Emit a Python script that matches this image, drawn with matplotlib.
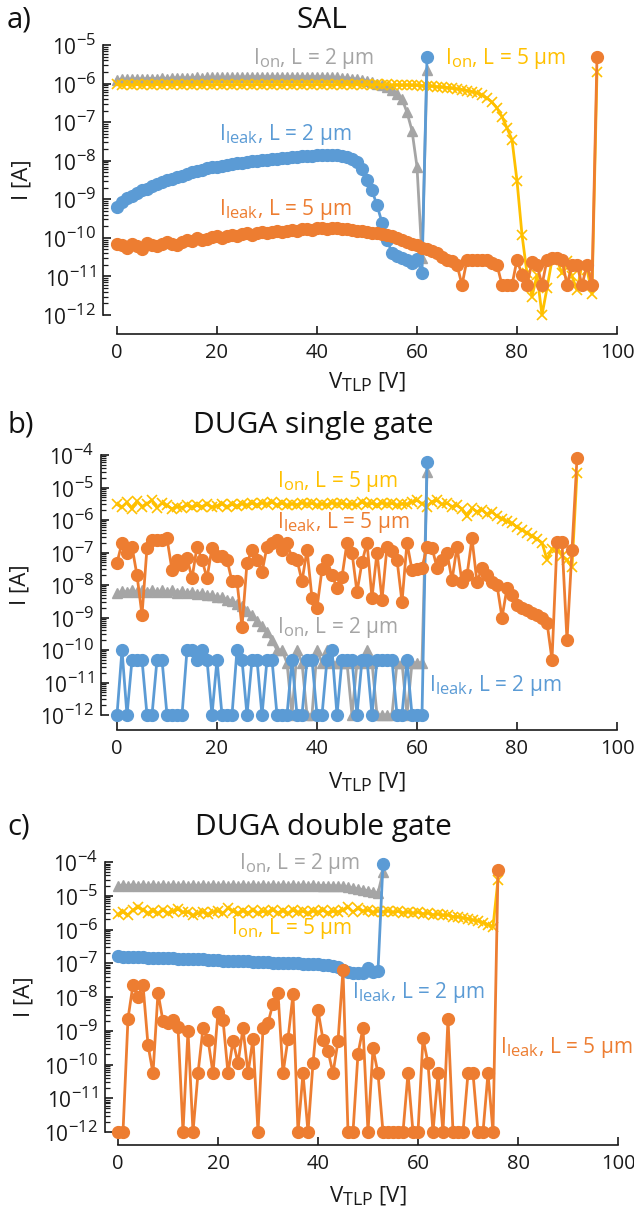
import numpy as np
import matplotlib
matplotlib.use("Agg")
import matplotlib.pyplot as plt
import matplotlib._mathtext as mathtext_internals
from matplotlib.ticker import LogLocator, FuncFormatter, NullFormatter, MultipleLocator

plt.rcParams["font.family"] = ["Open Sans", "DejaVu Sans"]
plt.rcParams["mathtext.fontset"] = "custom"
plt.rcParams["mathtext.rm"] = "Open Sans"
plt.rcParams["mathtext.it"] = "Open Sans:italic"
plt.rcParams["mathtext.bf"] = "Open Sans:bold"
plt.rcParams["mathtext.default"] = "regular"
# slightly larger sub/superscripts (exponents and the I_on / I_leak subscripts)
mathtext_internals.SHRINK_FACTOR = 0.8

BLUE = "#5B9BD5"
ORANGE = "#ED7D31"
GRAY = "#A5A5A5"
GOLD = "#FFC000"
INK = "#1a1a1a"

# ---------------- SAL: currents [A] at 1 V TLP steps ----------------
sal_ion_l2 = [
    1.25e-6, 1.3e-6, 1.3e-6, 1.3e-6, 1.35e-6, 1.3e-6, 1.35e-6, 1.35e-6, 1.35e-6, 1.4e-6,
    1.35e-6, 1.4e-6, 1.4e-6, 1.4e-6, 1.4e-6, 1.4e-6, 1.45e-6, 1.4e-6, 1.45e-6, 1.45e-6,
    1.45e-6, 1.45e-6, 1.45e-6, 1.45e-6, 1.5e-6, 1.45e-6, 1.5e-6, 1.5e-6, 1.5e-6, 1.5e-6,
    1.5e-6, 1.5e-6, 1.5e-6, 1.5e-6, 1.5e-6, 1.5e-6, 1.5e-6, 1.5e-6, 1.5e-6, 1.5e-6,
    1.5e-6, 1.5e-6, 1.5e-6, 1.45e-6, 1.45e-6, 1.4e-6, 1.4e-6, 1.35e-6, 1.3e-6, 1.25e-6,
    1.2e-6, 1.1e-6, 1.0e-6, 9e-7, 8e-7, 7e-7, 5.5e-7, 4e-7, 1.8e-7, 6e-8,
    7e-9, 3e-11, 2.2e-6]
sal_leak_l2 = [
    6.5e-10, 8.5e-10, 1.05e-9, 1.25e-9, 1.45e-9, 1.7e-9, 1.9e-9, 2.2e-9, 2.5e-9, 2.8e-9,
    3.1e-9, 3.4e-9, 3.8e-9, 4.1e-9, 4.5e-9, 5.0e-9, 5.5e-9, 5.9e-9, 6.3e-9, 6.7e-9,
    7.0e-9, 7.3e-9, 7.7e-9, 8.0e-9, 8.5e-9, 8.9e-9, 9.3e-9, 9.6e-9, 1.0e-8, 1.03e-8,
    1.07e-8, 1.1e-8, 1.13e-8, 1.16e-8, 1.2e-8, 1.23e-8, 1.26e-8, 1.3e-8, 1.33e-8, 1.36e-8,
    1.38e-8, 1.4e-8, 1.42e-8, 1.43e-8, 1.4e-8, 1.35e-8, 1.25e-8, 1.1e-8, 9e-9, 6e-9,
    3.2e-9, 1.7e-9, 7e-10, 2.5e-10, 9e-11, 4e-11, 3.3e-11, 3e-11, 2.6e-11, 2.2e-11,
    2.8e-11, 1.2e-11, 5e-6]
sal_ion_l5 = [
    9.5e-7, 9e-7, 9.5e-7, 9e-7, 9.5e-7, 9e-7, 9.5e-7, 9e-7, 9.5e-7, 9e-7,
    9.5e-7, 9e-7, 9.5e-7, 9e-7, 9.5e-7, 9e-7, 9.5e-7, 9e-7, 9.5e-7, 9e-7,
    9.5e-7, 9e-7, 9.5e-7, 9e-7, 9.5e-7, 9e-7, 9.5e-7, 9e-7, 9.5e-7, 9e-7,
    9.5e-7, 9e-7, 9.5e-7, 9e-7, 9.5e-7, 9e-7, 9.5e-7, 9e-7, 9.5e-7, 9e-7,
    9.5e-7, 9e-7, 9.5e-7, 9e-7, 9.5e-7, 9e-7, 9.5e-7, 9e-7, 9.5e-7, 9e-7,
    9.5e-7, 9e-7, 9.5e-7, 9e-7, 9.5e-7, 9e-7, 9.3e-7, 9e-7, 9.2e-7, 9e-7,
    9e-7, 8.8e-7, 8.6e-7, 8.5e-7, 8.3e-7, 8.1e-7, 7.9e-7, 7.6e-7, 7.3e-7, 7e-7,
    6.6e-7, 6.2e-7, 5.7e-7, 5e-7, 4.2e-7, 3.3e-7, 2.3e-7, 1.4e-7, 7e-8, 3.5e-8,
    3e-9, 1.2e-10, 1.2e-11, 3e-12, 1.1e-11, 1e-12, 5e-12, 2.7e-11, 2.7e-11, 1.2e-11,
    2.5e-11, 1e-11, 4.5e-12, 2e-11, 1.5e-11, 3.5e-12, 2e-6]
sal_leak_l5 = [
    7e-11, 6.5e-11, 5.5e-11, 7e-11, 6e-11, 5e-11, 7.5e-11, 6.5e-11, 6e-11, 7e-11,
    8e-11, 7e-11, 6.5e-11, 8e-11, 9e-11, 8.5e-11, 1e-10, 9e-11, 9.5e-11, 1.05e-10,
    1.1e-10, 1e-10, 1.15e-10, 1.2e-10, 1.1e-10, 1.25e-10, 1.3e-10, 1.2e-10, 1.35e-10, 1.4e-10,
    1.3e-10, 1.45e-10, 1.5e-10, 1.4e-10, 1.55e-10, 1.6e-10, 1.55e-10, 1.65e-10, 1.7e-10, 1.6e-10,
    1.75e-10, 1.8e-10, 1.7e-10, 1.8e-10, 1.75e-10, 1.7e-10, 1.65e-10, 1.6e-10, 1.55e-10, 1.5e-10,
    1.4e-10, 1.35e-10, 1.3e-10, 1.25e-10, 1.2e-10, 1.1e-10, 1e-10, 9e-11, 8e-11, 7e-11,
    6.5e-11, 5.5e-11, 5e-11, 4.5e-11, 4e-11, 3.2e-11, 2.7e-11, 2.5e-11, 2e-11, 6e-12,
    2.7e-11, 2.7e-11, 2.7e-11, 2.7e-11, 2.7e-11, 2.2e-11, 2e-11, 6e-12, 6e-12, 6e-12,
    2.7e-11, 1.1e-11, 6e-12, 2.3e-11, 2e-11, 6e-12, 2.7e-11, 3e-11, 3e-11, 2.7e-11,
    6e-12, 2e-11, 2e-11, 6e-12, 2e-11, 6e-12, 5e-6]

# ---------------- DUGA single gate ----------------
sg_ion_l2 = [
    5.5e-9, 6.5e-9, 6e-9, 7e-9, 6e-9, 7e-9, 6.2e-9, 7e-9, 6e-9, 6.8e-9,
    6e-9, 6.8e-9, 5.8e-9, 6.5e-9, 5.6e-9, 6.3e-9, 5.3e-9, 5.8e-9, 4.8e-9, 5e-9,
    4.2e-9, 4.2e-9, 3.5e-9, 3.3e-9, 2.6e-9, 2.2e-9, 1.6e-9, 1.2e-9, 8e-10, 5.5e-10,
    3.5e-10, 2e-10, 1e-10, 1e-10, 4e-11, 1e-12, 1e-10, 4e-11, 1e-12, 1e-12,
    1e-10, 4e-11, 1e-10, 4e-11, 4e-11, 4e-11, 4e-11, 1e-12, 4e-11, 4e-11,
    1e-10, 4e-11, 1e-12, 1e-12, 1e-12, 1e-12, 4e-11, 4e-11, 1e-12, 4e-11,
    4e-11, 4e-11, 3e-5]
sg_leak_l2 = [
    1e-12, 1e-10, 1e-12, 5e-11, 5e-11, 5e-11, 1e-12, 1e-12, 5e-11, 5e-11,
    1e-12, 1e-12, 1e-12, 1e-12, 1e-10, 1e-10, 5e-11, 1e-10, 5e-11, 1e-12,
    5e-11, 1e-12, 1e-12, 1e-12, 1e-10, 5e-11, 1e-12, 5e-11, 5e-11, 1e-12,
    5e-11, 5e-11, 1e-12, 1e-12, 1e-12, 5e-11, 1e-12, 1e-12, 5e-11, 5e-11,
    1e-12, 1e-12, 5e-11, 1e-10, 1e-12, 5e-11, 5e-11, 5e-11, 1e-12, 5e-11,
    5e-11, 1e-12, 5e-11, 5e-11, 5e-11, 5e-11, 1e-12, 1e-12, 5e-11, 1e-12,
    1e-12, 1e-12, 6e-5]
sg_ion_l5 = [
    3e-6, 2.5e-6, 3.5e-6, 2.2e-6, 3.8e-6, 2.6e-6, 3.2e-6, 4e-6, 2.4e-6, 3.3e-6,
    2.8e-6, 2.2e-6, 2.6e-6, 2.4e-6, 2.9e-6, 2.5e-6, 2.8e-6, 2.6e-6, 3e-6, 2.5e-6,
    2.7e-6, 3.1e-6, 2.6e-6, 3e-6, 2.7e-6, 3.2e-6, 2.8e-6, 3.3e-6, 2.9e-6, 3.4e-6,
    3e-6, 3.5e-6, 2.9e-6, 3.3e-6, 2.8e-6, 3.2e-6, 2.9e-6, 3.4e-6, 3e-6, 3.3e-6,
    2.8e-6, 3.2e-6, 2.9e-6, 3.4e-6, 3e-6, 3.3e-6, 2.9e-6, 3.2e-6, 2.8e-6, 3.5e-6,
    3e-6, 3.3e-6, 2.9e-6, 3.4e-6, 3e-6, 3.3e-6, 2.8e-6, 3.2e-6, 3e-6, 3.6e-6,
    4e-6, 3.2e-6, 2.6e-6, 3.7e-6, 4e-6, 3e-6, 3.3e-6, 2.6e-6, 2.8e-6, 2.2e-6,
    1.3e-6, 2.3e-6, 1.8e-6, 2.1e-6, 1.5e-6, 1.8e-6, 1.3e-6, 1.1e-6, 9e-7, 8e-7,
    6e-7, 5e-7, 4e-7, 3.2e-7, 2.6e-7, 2e-7, 6e-8, 1.3e-7, 1.4e-7, 8e-8,
    6e-8, 3.5e-8, 2.8e-5]
sg_leak_l5 = [
    4.8e-8, 2e-7, 9.5e-8, 1.5e-7, 2e-8, 1.2e-9, 1.4e-7, 2.4e-7, 2.5e-7, 2.4e-7,
    2.7e-7, 2.9e-8, 5.9e-8, 4e-8, 7e-8, 1.6e-8, 1.5e-7, 6e-8, 1.6e-8, 1.4e-7,
    8e-8, 8e-8, 6e-8, 1.3e-8, 1.3e-8, 5e-10, 4.8e-8, 1.2e-7, 6e-8, 2.5e-8,
    1.5e-7, 2e-7, 2.4e-7, 1.2e-7, 1.9e-7, 7e-8, 6e-8, 1.3e-8, 1.2e-7, 4e-9,
    2e-9, 3e-8, 6e-8, 2e-8, 8e-9, 1.8e-8, 2e-7, 1e-7, 6e-9, 5e-8,
    2e-7, 4e-9, 1e-7, 3.5e-9, 1.5e-7, 1.1e-7, 6e-8, 3e-9, 2e-7, 2.9e-8,
    3e-8, 3.4e-8, 1.5e-7, 1.4e-7, 3.4e-8, 6e-8, 1e-7, 1.4e-8, 1.5e-7, 1.2e-8,
    2e-8, 2.7e-7, 1.2e-8, 3.4e-8, 2e-8, 1.2e-8, 1e-8, 1e-9, 8e-9, 5e-9,
    2.5e-9, 2e-9, 1.7e-9, 1.4e-9, 1.2e-9, 1e-9, 7e-10, 5e-11, 2.1e-7, 2.1e-7,
    2e-10, 1.2e-7, 8e-5]

# ---------------- DUGA double gate ----------------
dg_ion_l2 = [
    1.9e-5, 2.1e-5, 2e-5, 2.1e-5, 2e-5, 2.1e-5, 2e-5, 2.1e-5, 2e-5, 2.1e-5,
    2e-5, 2.1e-5, 2e-5, 2.1e-5, 2e-5, 2.1e-5, 2e-5, 2.1e-5, 2e-5, 2.1e-5,
    2e-5, 2.1e-5, 2e-5, 2.1e-5, 2e-5, 2.1e-5, 2e-5, 2.1e-5, 2e-5, 2.1e-5,
    2e-5, 2.1e-5, 2e-5, 2.1e-5, 2e-5, 2.1e-5, 2e-5, 2.1e-5, 2e-5, 2.1e-5,
    2e-5, 2e-5, 2e-5, 1.95e-5, 1.95e-5, 1.9e-5, 1.8e-5, 1.7e-5, 1.6e-5, 1.5e-5,
    1.4e-5, 1.3e-5, 1.2e-5, 5e-5]
dg_leak_l2 = [
    1.6e-7, 1.55e-7, 1.55e-7, 1.5e-7, 1.5e-7, 1.5e-7, 1.45e-7, 1.45e-7, 1.45e-7, 1.4e-7,
    1.4e-7, 1.4e-7, 1.35e-7, 1.35e-7, 1.35e-7, 1.3e-7, 1.3e-7, 1.3e-7, 1.25e-7, 1.25e-7,
    1.25e-7, 1.2e-7, 1.2e-7, 1.2e-7, 1.15e-7, 1.15e-7, 1.15e-7, 1.1e-7, 1.1e-7, 1.1e-7,
    1.1e-7, 1.05e-7, 1.05e-7, 1.05e-7, 1e-7, 1e-7, 1e-7, 9.7e-8, 9.5e-8, 9.5e-8,
    9.5e-8, 9e-8, 8.7e-8, 8.5e-8, 7.5e-8, 6.5e-8, 5.5e-8, 5e-8, 5e-8, 5.2e-8,
    7e-8, 5.5e-8, 6e-8, 9e-5]
dg_ion_l5 = [
    2.8e-6, 3.3e-6, 2.7e-6, 3.8e-6, 4.5e-6, 3.9e-6, 3e-6, 3.6e-6, 3e-6, 3.8e-6,
    3e-6, 3.5e-6, 4e-6, 3.2e-6, 3.3e-6, 2.6e-6, 3e-6, 3.4e-6, 2.8e-6, 3.3e-6,
    3.6e-6, 3e-6, 4.3e-6, 3.5e-6, 3e-6, 3.6e-6, 3.1e-6, 3.7e-6, 3e-6, 3.5e-6,
    3.2e-6, 3.8e-6, 3.1e-6, 3.6e-6, 3e-6, 3.7e-6, 3.2e-6, 3.5e-6, 3e-6, 3.6e-6,
    3.2e-6, 3.7e-6, 3.1e-6, 3.5e-6, 3.3e-6, 3.8e-6, 4.6e-6, 3.3e-6, 4.2e-6, 3.5e-6,
    3.8e-6, 3.2e-6, 3.6e-6, 3.3e-6, 3.6e-6, 3.2e-6, 3.5e-6, 3.1e-6, 3.4e-6, 3e-6,
    3.3e-6, 2.9e-6, 3.1e-6, 2.7e-6, 2.9e-6, 2.6e-6, 2.7e-6, 2.4e-6, 2.4e-6, 2.2e-6,
    2.1e-6, 1.9e-6, 1.8e-6, 1.6e-6, 1.4e-6, 1.2e-6, 3e-5]
dg_leak_l5 = [
    1e-12, 1e-12, 2.3e-9, 2.3e-8, 1e-8, 2.3e-8, 3.8e-10, 5.5e-11, 1.35e-8, 1.9e-9,
    1.7e-9, 2.1e-9, 1.3e-9, 1e-12, 1e-9, 1e-12, 5.5e-11, 1.2e-9, 5.5e-10, 5.5e-11,
    3.6e-9, 2.1e-9, 5.5e-11, 5e-10, 1.1e-10, 1.2e-9, 5.5e-11, 5.8e-10, 1e-12, 1.2e-9,
    1.7e-9, 6.4e-9, 1.3e-8, 5.5e-11, 5.8e-10, 1.2e-8, 1e-12, 5.5e-11, 1e-12, 1.1e-10,
    4e-9, 5.5e-10, 2.5e-10, 5.5e-11, 4.9e-10, 6.3e-8, 1e-12, 1e-12, 2.1e-10, 1.2e-9,
    1e-12, 3e-10, 5.5e-11, 1e-12, 1e-12, 1e-12, 1e-12, 1e-12, 5.5e-11, 1e-12,
    1e-12, 6e-10, 1.1e-10, 1e-12, 5.5e-11, 1e-12, 2.3e-9, 1e-12, 1e-12, 1e-12,
    5.5e-11, 5.5e-11, 1e-12, 1e-12, 5.5e-11, 1e-12, 5.8e-5]

W, H = 634, 1211
fig = plt.figure(figsize=(W / 100, H / 100), dpi=100)


def px_axes(left, right, top, bottom):
    return fig.add_axes([left / W, 1 - bottom / H, (right - left) / W, (bottom - top) / H])


def series(ax, vals, color, marker, ms, mew=1.0):
    v = np.arange(len(vals))
    ax.plot(v, vals, color=color, lw=2.0, marker=marker, ms=ms, mew=mew,
            mfc=color, mec=color, clip_on=False)


def style(ax, xmin, ytop, drop, xlab_y):
    ax.set_yscale("log")
    ax.set_xlim(xmin, 100)
    ax.set_ylim(1e-12, ytop)
    for s in ["top", "right"]:
        ax.spines[s].set_visible(False)
    for s in ["left", "bottom"]:
        ax.spines[s].set_linewidth(1.2)
        ax.spines[s].set_color(INK)
    ax.spines["bottom"].set_position(("outward", drop))
    ax.spines["bottom"].set_bounds(0, 100)
    ax.xaxis.set_major_locator(MultipleLocator(20))
    ax.yaxis.set_major_locator(LogLocator(base=10, numticks=20))
    ax.yaxis.set_minor_locator(LogLocator(base=10, subs=np.arange(2, 10), numticks=200))
    ax.yaxis.set_major_formatter(FuncFormatter(lambda y, p: r"$10^{%d}$" % round(np.log10(y))))
    ax.yaxis.set_minor_formatter(NullFormatter())
    ax.tick_params(axis="both", which="major", direction="in", length=5.5, width=1.2,
                   color=INK, labelcolor=INK)
    ax.tick_params(axis="x", labelsize=14.5, pad=6)
    ax.tick_params(axis="y", labelsize=15, pad=5)
    ax.tick_params(axis="y", which="minor", direction="in", length=3.5, width=0.9, color=INK)

    x0 = (0 - xmin) / (100 - xmin)
    ax.set_ylabel("I [A]", fontsize=16, color=INK, va="center")
    ax.yaxis.set_label_coords(-81 / ax.bbox.width, 0.5)
    ax.set_xlabel(r"V$_{TLP}$ [V]", fontsize=16, color=INK, va="center")
    ax.xaxis.set_label_coords(x0 + 0.5 * (1 - x0), xlab_y)


def label(ax, x, y, s, color):
    ax.text(x, y, s, color=color, fontsize=15, ha="left", va="center")


# a) SAL
ax1 = px_axes(103, 617, 45, 315)
series(ax1, sal_ion_l2, GRAY, "^", 7.5)
series(ax1, sal_ion_l5, GOLD, "x", 7, 1.2)
series(ax1, sal_leak_l2, BLUE, "o", 8.5)
series(ax1, sal_leak_l5, ORANGE, "o", 8.5)
style(ax1, -2.8, 1e-5, 14, -0.25)
label(ax1, 27.2, 4.6e-6, r"I$_{on}$, L = 2 µm", GRAY)
label(ax1, 65.6, 4.6e-6, r"I$_{on}$, L = 5 µm", GOLD)
label(ax1, 20.4, 4.7e-8, r"I$_{leak}$, L = 2 µm", BLUE)
label(ax1, 20.4, 5.3e-10, r"I$_{leak}$, L = 5 µm", ORANGE)

# b) DUGA single gate
ax2 = px_axes(101, 617, 455, 715)
series(ax2, sg_ion_l2, GRAY, "^", 7.5)
series(ax2, sg_ion_l5, GOLD, "x", 7, 1.2)
series(ax2, sg_leak_l2, BLUE, "o", 8.5)
series(ax2, sg_leak_l5, ORANGE, "o", 8.5)
style(ax2, -3.2, 1e-4, 11, -0.26)
label(ax2, 32, 1.5e-5, r"I$_{on}$, L = 5 µm", GOLD)
label(ax2, 32, 8.2e-7, r"I$_{leak}$, L = 5 µm", ORANGE)
label(ax2, 32, 5.1e-10, r"I$_{on}$, L = 2 µm", GRAY)
label(ax2, 62.4, 8.3e-12, r"I$_{leak}$, L = 2 µm", BLUE)

# c) DUGA double gate
ax3 = px_axes(105, 618, 862, 1132)
series(ax3, dg_ion_l2, GRAY, "^", 7.5)
series(ax3, dg_ion_l5, GOLD, "x", 7, 1.2)
series(ax3, dg_leak_l2, BLUE, "o", 8.5)
series(ax3, dg_leak_l5, ORANGE, "o", 8.5)
style(ax3, -2.6, 1e-4, 9.5, -0.24)
label(ax3, 24.2, 9.3e-5, r"I$_{on}$, L = 2 µm", GRAY)
label(ax3, 22.6, 1.1e-6, r"I$_{on}$, L = 5 µm", GOLD)
label(ax3, 46.8, 1.4e-8, r"I$_{leak}$, L = 2 µm", BLUE)
label(ax3, 76.4, 3.1e-10, r"I$_{leak}$, L = 5 µm", ORANGE)

# panel titles and letters
for ypx, letter, title, tx in [(20, "a)", "SAL", 322),
                               (425, "b)", "DUGA single gate", 313),
                               (827, "c)", "DUGA double gate", 323)]:
    fig.text(7 / W, 1 - ypx / H, letter, fontsize=21, ha="left", va="center", color="#111")
    fig.text(tx / W, 1 - ypx / H, title, fontsize=21.5, ha="center", va="center", color="#111")

fig.savefig("out.png", dpi=100)
